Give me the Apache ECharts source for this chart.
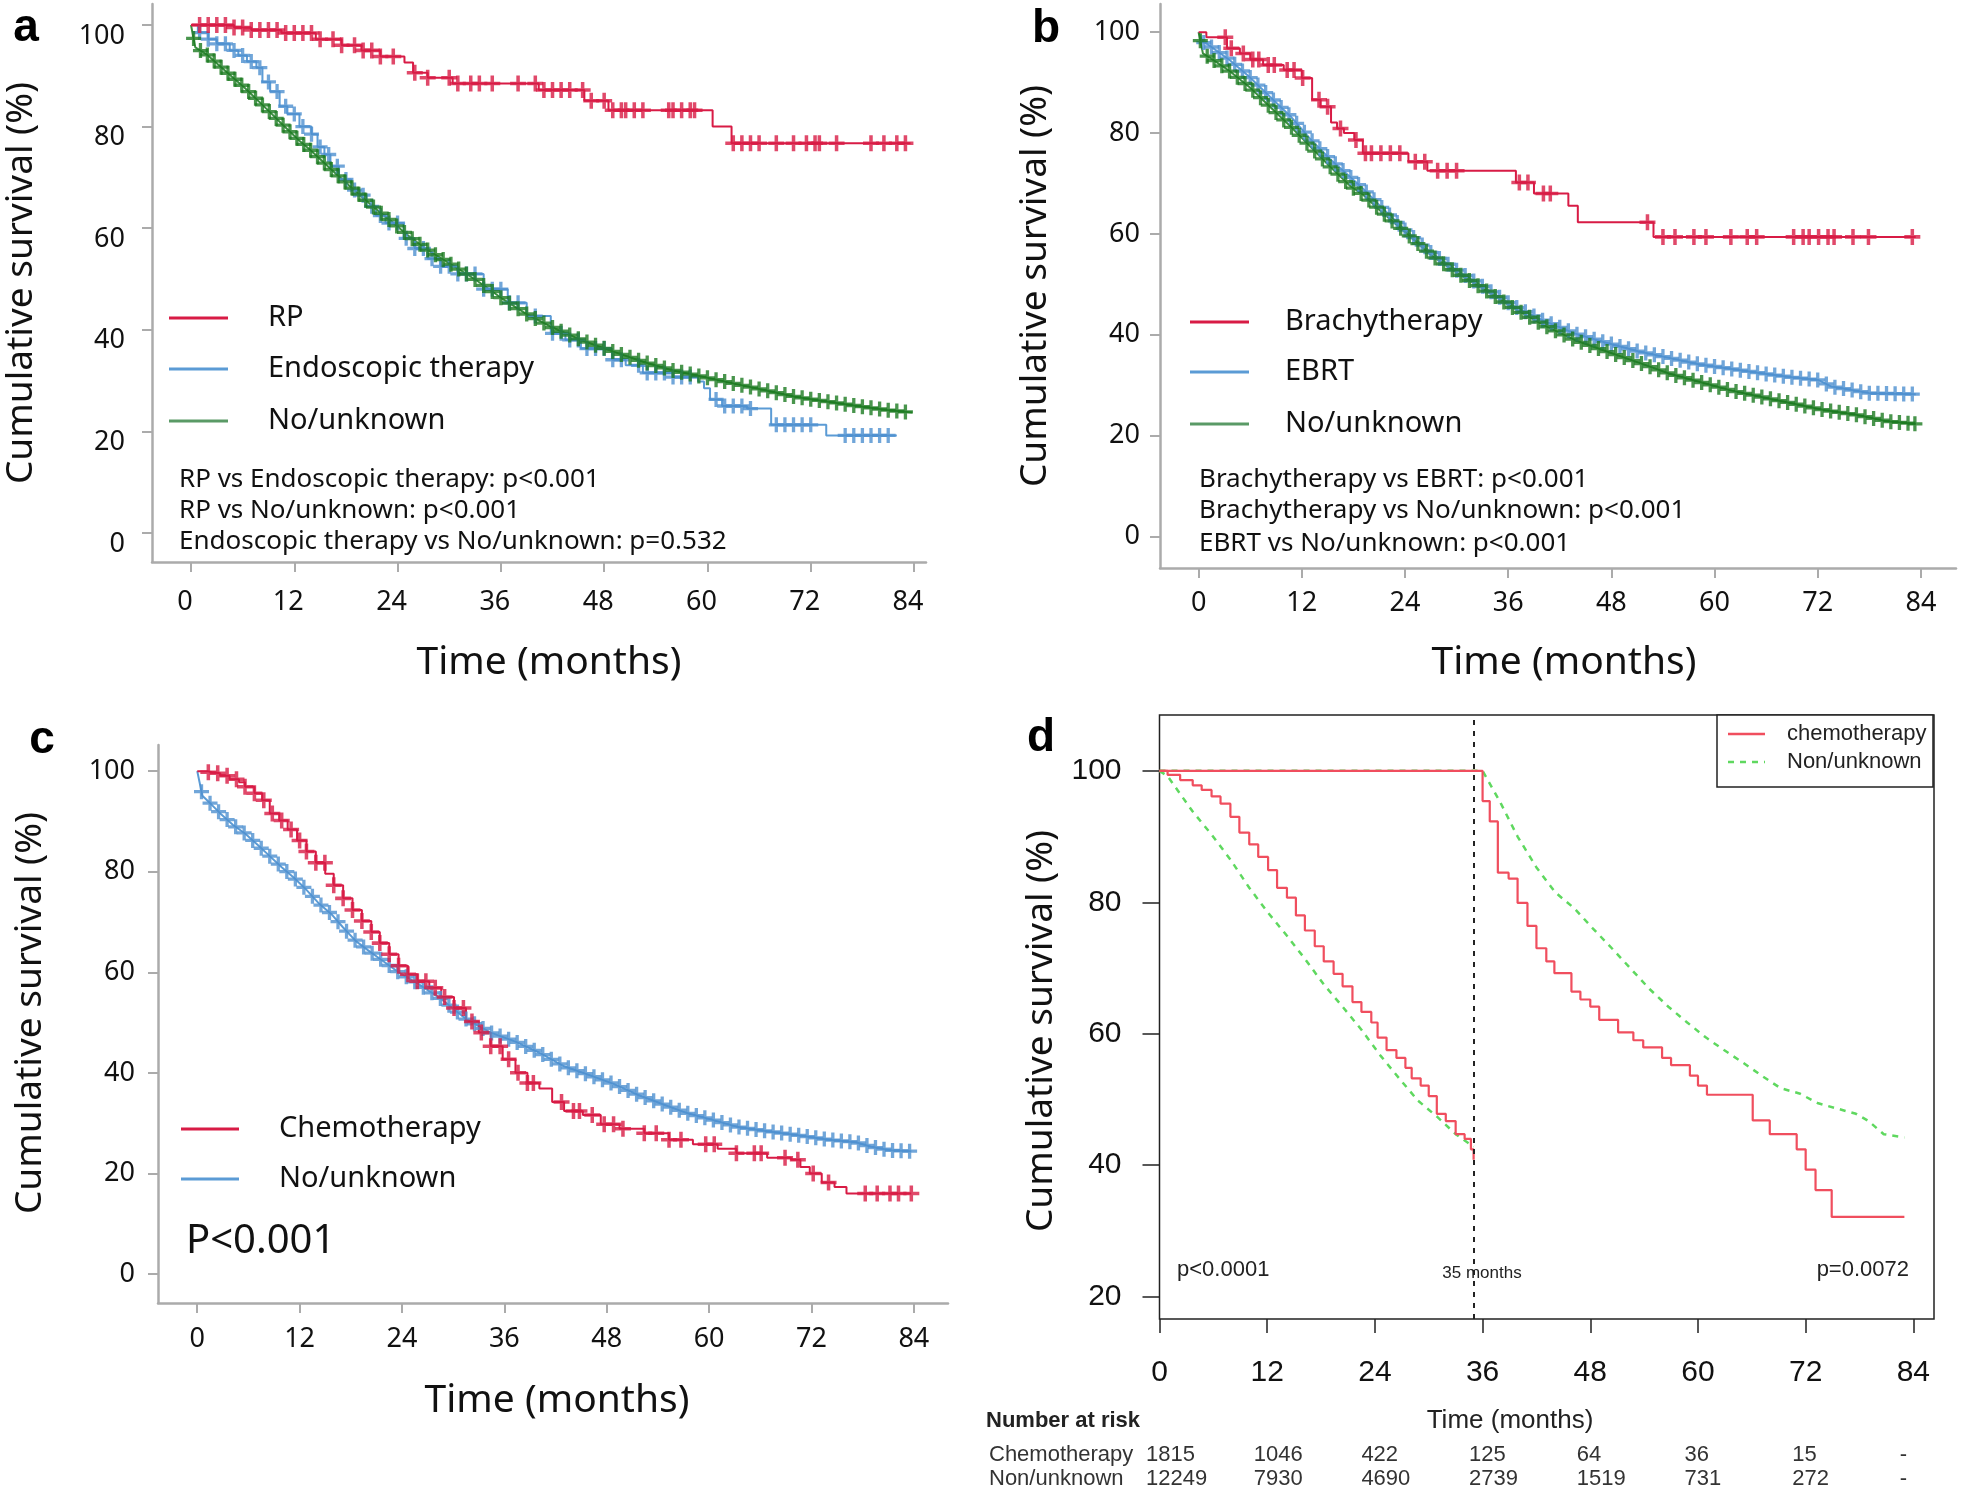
<!DOCTYPE html>
<html><head><meta charset="utf-8">
<script src="https://cdn.jsdelivr.net/npm/echarts@6/dist/echarts.min.js"></script>
<style>html,body{margin:0;padding:0;background:#fff;}#c{width:1961px;height:1496px;}</style>
</head><body><div id="c"></div>
<script>
// ---------- tick values ----------
const monthTicks = [0, 12, 24, 36, 48, 60, 72, 84];
const survTicksABC = [0, 20, 40, 60, 80, 100];
const survTicksD = [20, 40, 60, 80, 100];

// ---------- panel a ----------
const aRP = [[0,100],[5,99.5],[7,99],[10.5,98.4],[14.5,97.2],[17.5,96],[19.8,95],[22,93.8],[24.8,92.6],[25.8,90.6],[27.5,89.6],[30.4,88.5],[40.4,87.2],[45.7,85.1],[48.5,83.2],[60.6,80],[62.8,76.7],[83.6,76.7]];
const aEndo = [[0,100],[0.8,98.5],[2,97.2],[3,96.3],[4.5,95],[5.5,94],[6.5,92.8],[7.6,91.6],[8.3,88.8],[9.2,86.9],[10.3,84],[11.2,82.5],[12.6,80],[14,78.5],[14.7,76],[15.5,74.5],[16.2,72.2],[17.2,69.6],[18.6,67.5],[19.6,66.5],[20.4,64.3],[21.5,62.5],[22.6,61],[24.7,58],[26,56],[27.5,54],[29,52.5],[31,51],[34,48],[36.8,45.3],[39,42.7],[41.8,39.3],[43.5,38],[45.3,36.3],[48.9,34.1],[50.5,33],[52.5,31.5],[56,30.7],[58.9,29.8],[59.6,28.5],[60.3,26.3],[61.7,25],[64.6,24.5],[67.4,21.3],[73.8,19.2],[82,19.2]];
const aNo = [[0,100],[0.5,95.6],[1.9,94.1],[4.5,90.2],[6.2,87.7],[9.2,82.8],[10.5,80.6],[12.6,77.2],[13.8,75.5],[16.9,70.6],[18.5,68.2],[21.1,64.3],[23.3,61.3],[25.4,58.3],[27.5,55.7],[30.4,52.7],[33.2,49.7],[36.1,46.2],[38.9,43.2],[41.8,40.6],[45.3,38],[48.9,35.8],[52.5,33.7],[56,32],[59.6,30.7],[63.1,29.4],[66.7,28.1],[70.2,26.8],[73.8,25.9],[77.4,25],[80.9,24.2],[83.8,23.7]];
const aRPCens = [1,2,3,4,5,6,7,8,9,10,11,12,13,14,15,16.5,17.5,19,20,21,22,23.5,26,27.5,30,31,32.5,33.5,35,38,40,41,42,43,44,45.5,46.5,48,49,50,50.5,51.5,52.5,55.5,56,57,58,58.5,63,64,65,66,68,70,71.5,72.5,73,75,79,80.5,82,83];
const aEndoCens = [1,2,3,4,5,6,7,8,9,10,11,12,13,14,15,16,17,18,19,20,21,22,23,24,25,26,27,28,29,30,31,32,33,34,35,36,37,38,40,42,43,44,45,46,47,48,49,50,52,53,54,55,56,57,58,61,62,63,64,65,68,69,70,71,72,76,77,78,79,80,81];
const aNoCens = [0.3,1.1,1.9,2.7,3.5,4.3,5.1,5.9,6.7,7.5,8.3,9.1,9.9,10.7,11.5,12.3,13.1,13.9,14.7,15.5,16.3,17.1,17.9,18.7,19.5,20.3,21.2,22.1,23,23.9,24.8,25.7,26.6,27.5,28.4,29.3,30.2,31.1,32,33,34,35,36,37,38,39,40,41,42,43,44,45,46,47,48,49,50,51,52,53,54,55,56,57,58,59,60,61,62,63,64,65,66,67,68,69,70,71,72,73,74,75,76,77,78,79,80,81,82,83];

// ---------- panel b ----------
const bBrachy = [[0,100],[0.9,99],[3.3,96.8],[4.8,95.8],[6,94.6],[7.5,93.5],[9.9,92.5],[12,90.9],[13.2,86.6],[14.2,85.2],[15.4,82.1],[16.1,80.9],[16.9,80],[18.1,78.6],[19.1,76],[24.4,74.3],[26.6,72.5],[36.9,70.2],[39,68],[43,65.6],[44.1,62.3],[52.9,59.4],[83.4,59.4]];
const bEBRT = [[0,100],[0.5,98],[0.9,97.8],[3.6,94.5],[6,91],[8.3,87.2],[10.7,83.3],[13,78.8],[15.3,74.8],[17.5,71.5],[19.1,69],[21.2,65.4],[24.1,60.6],[27,56.3],[30,52.8],[32.9,49.7],[36.5,45.8],[40.1,42.8],[43.8,40.2],[47.4,38.4],[51.1,36.7],[54.7,35.4],[58.3,34.1],[62,33.2],[65.6,32.3],[69.2,31.5],[72.1,31],[73.6,29.7],[75,29.3],[78,28.4],[83.4,28.2]];
const bNo = [[0,100],[0.5,95.8],[1.6,94.6],[3.6,92.3],[6,89],[8.3,85.2],[10.7,81.3],[13,77.3],[15.3,73.3],[17.7,69.4],[19.1,67.8],[21.2,64.5],[24.1,60.2],[27,55.8],[30,52.3],[32.9,49.3],[36.5,45.4],[40.1,41.9],[43.8,38.9],[47.4,36.7],[51.1,34.5],[54.7,32.3],[58.3,30.6],[62,28.9],[65.6,27.6],[69.2,26.3],[72.9,25],[76.5,24.1],[80.1,22.8],[83.4,22.3]];
const bBrachyCens = [3.1,3.8,5.2,6.3,7,8.1,8.8,10.3,11.1,12.1,14,15,16.5,18.3,19.4,20.1,21.2,22.3,23.4,25.2,26.3,27.8,28.9,30,37.3,38.3,40.1,40.9,52.2,54,55.4,57.6,59,61.9,63.8,64.9,69.2,70.3,71,72.1,73.2,73.9,76.1,77.9,83];
const bEBRTCens = [0.6,1.5,2.4,3.3,4.2,5.1,6,6.9,7.8,8.7,9.6,10.5,11.4,12.3,13.2,14.1,15,15.9,16.8,17.7,18.6,19.5,20.4,21.3,22.2,23.1,24,25,26,27,28,29,30,31,32,33,34,35,36,37,38,39,40,41,42,43,44,45,46,47,48,49,50,51,52,53,54,55,56,57,58,59,60,61,62,63,64,65,66,67,68,69,70,71,72,73,74,75,76,77,78,79,80,81,82,83];
const bNoCens = [0.2,1,1.8,2.7,3.6,4.5,5.4,6.3,7.2,8.1,9,9.9,10.8,11.7,12.6,13.5,14.4,15.3,16.2,17.1,18,18.9,19.8,20.7,21.6,22.5,23.5,24.5,25.5,26.5,27.5,28.5,29.5,30.5,31.5,32.5,33.5,34.5,35.5,36.5,37.5,38.5,39.5,40.5,41.5,42.5,43.5,44.5,45.5,46.5,47.5,48.5,49.5,50.5,51.5,52.5,53.5,54.5,55.5,56.5,57.5,58.5,59.5,60.5,61.5,62.5,63.5,64.5,65.5,66.5,67.5,68.5,69.5,70.5,71.5,72.5,73.5,74.5,75.5,76.5,77.5,78.5,79.5,80.5,81.5,82.5,83.3];

// ---------- panel c ----------
const cChemo = [[0,100],[1.2,99.8],[1.7,99.6],[2.7,99.1],[3.8,98.4],[4.9,97.8],[5.6,96.9],[6.7,95.6],[7.6,94.2],[8.5,91.6],[9.6,90.2],[10.6,88.4],[11.7,86.2],[12.8,84],[13.9,81.8],[15,79.6],[16,77.3],[17.1,74.7],[18.2,72.4],[19.3,70.2],[20.4,68],[21.4,65.8],[22.5,63.6],[23.6,61.3],[24.7,59.6],[25.8,58.2],[27.2,56.9],[28.6,55.1],[30.1,52.9],[31.5,50.2],[33,48],[34.4,45.3],[35.8,42.7],[37.3,40],[38.7,38],[40.1,36.9],[41.6,34.2],[43,32.4],[45.2,31.6],[47.3,29.8],[49.5,28.9],[52.4,28],[55.3,26.7],[58.1,25.8],[61,24.9],[63.2,24],[66.8,23.1],[69.6,22.7],[70.7,21.3],[71.8,20],[73.2,18.2],[74.7,17.3],[76.1,16],[83.7,16]];
const cNo = [[0,100],[0.6,95.1],[1.7,93.3],[2.7,91.6],[4.2,89.3],[5.6,87.6],[7.1,85.3],[8.5,83.1],[9.9,80.9],[11.4,78.7],[12.8,76.4],[14.2,73.8],[15.7,71.6],[17.1,68.9],[18.6,66.2],[20,64.4],[21.4,62.7],[23.6,60],[25.8,57.8],[28.6,54.7],[31.5,50.7],[34.4,48],[37.3,46.2],[40.1,44],[43,41.3],[45.9,39.6],[48.8,37.8],[51.7,35.6],[54.5,33.8],[57.4,32],[60.3,30.7],[63.2,29.3],[66.8,28.4],[70.4,27.6],[74,26.7],[77.2,26.2],[79,25.3],[81.2,24.6],[83.7,24.4]];
const cChemoCens = [1.3,2.4,3.5,4.6,5.6,6.7,7.8,8.8,9.9,11,12,12.8,13.9,14.96,16,17.1,18.2,19.3,20.4,21.4,22.5,23.6,24.7,25.8,26.8,27.9,29,30.1,31.2,32.2,33.3,34.4,35.5,36.5,37.6,38.7,39.4,42.7,44.1,44.8,46.3,47.7,48.8,49.9,52.4,53.8,55.3,56.7,59.6,60.6,63.2,65.3,66.1,68.9,70.4,72.2,74,78.3,79.7,81.2,82.2,83.7];
const cNoCens = [0.5,1.5,2.5,3.5,4.5,5.5,6.5,7.5,8.5,9.5,10.5,11.5,12.5,13.5,14.5,15.5,16.5,17.5,18.5,19.5,20.5,21.5,22.5,23.5,24.5,25.5,26.5,27.5,28.5,29.5,30.5,31.5,32.5,33.5,34.5,35.5,36.5,37.5,38.5,39.5,40.5,41.5,42.5,43.5,44.5,45.5,46.5,47.5,48.5,49.5,50.5,51.5,52.5,53.5,54.5,55.5,56.5,57.5,58.5,59.5,60.5,61.5,62.5,63.5,64.5,65.5,66.5,67.5,68.5,69.5,70.5,71.5,72.5,73.5,74.5,75.5,76.5,77.5,78.5,79.5,80.5,81.5,82.5,83.5];

// ---------- panel d ----------
const dChemoEarly = [[0,100],[0.9,99.4],[2.3,98.6],[3.7,97.8],[4.7,97.1],[5.8,96.1],[6.8,95],[7.9,93],[8.9,90.6],[10,88.8],[11,86.9],[12.1,84.9],[13.1,82.2],[14.2,80.7],[15.2,78],[16.2,75.7],[17.3,73.3],[18.3,71],[19.4,69.1],[20.4,67.2],[21.5,64.8],[22.5,63.3],[23.6,61.7],[24.3,59.4],[25.3,57.5],[26.4,56.3],[27.4,54.8],[28.1,53.2],[29.1,52.1],[30,50.5],[30.9,47.8],[31.9,46.7],[33,44.7],[34,44],[34.7,42.4],[35,40.8]];
const dNonEarly = [[0,100],[0.9,99.2],[2.3,96.5],[3.7,93.8],[5.8,90.3],[7.9,86.5],[10,82.2],[12.1,78.4],[14.2,74.9],[16.2,71.4],[18.3,67.5],[20.4,64.1],[22.5,60.6],[24.6,56.7],[26.7,53.2],[28.8,49.8],[30.9,47.4],[33,44.7],[35,42.8]];
const dChemoLate = [[0,100],[36,95.4],[36.8,92.3],[37.7,84.5],[38.9,83.6],[39.9,79.9],[41,76.4],[42,73],[43.1,71],[44,69.2],[45.9,66.4],[46.9,65.2],[48,64.1],[49,62.1],[51.1,60.2],[52.8,59],[53.9,57.9],[56,56.3],[57,55.2],[59.1,53.6],[60,52.1],[61,50.7],[66.1,46.8],[68,44.7],[71,42.4],[72,39.3],[73.1,36.2],[74.9,32.1],[83,32.1]];
const dNonLate = [[0,100],[36,100],[37.9,95.4],[39.9,90],[42,85.3],[44.1,81.5],[46.2,79.1],[48.3,76],[50.4,73],[52.5,69.9],[54.6,66.8],[56.7,64.1],[58.8,61.7],[60.9,59.4],[62.9,57.5],[65,55.6],[67.1,53.6],[69.2,51.7],[71.3,50.9],[73.4,49.4],[75.5,48.6],[77.6,47.8],[79,46.7],[80.7,44.7],[83,44.2]];
const landmarkMonth = 35;
const riskChemo = ['1815','1046','422','125','64','36','15','-'];
const riskNon = ['12249','7930','4690','2739','1519','731','272','-'];

// ---------- helpers ----------
function stepAt(c, t) { let v = c[0][1]; for (const p of c) { if (p[0] <= t) v = p[1]; else break; } return v; }
function lineAt(c, t) {
  for (let i = 1; i < c.length; i++) {
    const p0 = c[i-1], p1 = c[i];
    if (t <= p1[0]) { const f = (t - p0[0]) / ((p1[0] - p0[0]) || 1); return p0[1] + f * (p1[1] - p0[1]); }
  }
  return c[c.length-1][1];
}
function marks(c, times, step) { return times.map(t => [t, step ? stepAt(c, t) : lineAt(c, t)]); }

const PLUS = 'path://M3.9,0H6.1V3.9H10V6.1H6.1V10H3.9V6.1H0V3.9H3.9Z';
const RED = '#d81b45', BLUE = '#5b9bd5', BLUEM = '#4e90d0', GREEN = '#3a8f3f', GREENM = '#1b7a20';
const DRED = '#f04e5e', DGREEN = '#5fd85f';
const NS = 'Noto Sans', LS = 'Liberation Sans';

function km(name, data, idx, color, step, width, extra) {
  return Object.assign({ type: 'line', name, data, xAxisIndex: idx, yAxisIndex: idx,
    step: step ? 'end' : false, showSymbol: false, symbol: 'none', silent: true, animation: false,
    lineStyle: { color, width: width || 2 }, itemStyle: { color }, z: 3 }, extra || {});
}
function cens(name, data, idx, color, size) {
  return { type: 'scatter', name, data, xAxisIndex: idx, yAxisIndex: idx, symbol: PLUS,
    symbolSize: size || 14, itemStyle: { color }, silent: true, animation: false, z: 4 };
}
const AX = '#ababab';
function xAx(grid, min, max, lblMargin, nameGap, lblPad, namePad) {
  return { type: 'value', gridIndex: grid, min, max, splitLine: { show: false },
    axisLine: { show: true, onZero: false, lineStyle: { color: AX, width: 2.5 } },
    axisTick: { show: true, customValues: monthTicks, length: 10, lineStyle: { color: AX, width: 2 } },
    axisLabel: { customValues: monthTicks, fontSize: 27, color: '#111', fontFamily: NS, margin: lblMargin, padding: lblPad || 0 },
    name: 'Time (months)', nameLocation: 'middle', nameGap,
    nameTextStyle: { fontSize: 39, color: '#111', fontFamily: NS, padding: namePad || 0 } };
}
function yAx(grid, min, max, lblMargin, nameGap, lblShift, namePad) {
  const lbl = { customValues: survTicksABC, fontSize: 27, color: '#111', fontFamily: NS, margin: lblMargin };
  if (lblShift) {
    lbl.formatter = v => '{p|' + v + '}';
    lbl.rich = { p: { fontSize: 27, color: '#111', fontFamily: NS, padding: [lblShift, 0, 0, 0] } };
  }
  return { type: 'value', gridIndex: grid, min, max, splitLine: { show: false },
    axisLine: { show: true, onZero: false, lineStyle: { color: AX, width: 2.5 } },
    axisTick: { show: true, customValues: survTicksABC, length: 10, lineStyle: { color: AX, width: 2 } },
    axisLabel: lbl,
    name: 'Cumulative survival (%)', nameLocation: 'middle', nameRotate: 90, nameGap,
    nameTextStyle: { fontSize: 37, color: '#111', fontFamily: NS, padding: namePad || 0 } };
}

function txt(text, x, y, size, opts) {
  opts = opts || {};
  return { type: 'text', x, y, silent: true, z: 10, style: { text, fontSize: size, fontFamily: opts.family || NS,
    fontWeight: opts.weight || 'normal', fill: opts.color || '#111',
    align: opts.align || 'left', textAlign: opts.align || 'left', verticalAlign: 'middle', textVerticalAlign: 'middle' } };
}
function seg(x1, y1, x2, y2, color, w, dash) {
  return { type: 'line', silent: true, z: 10, shape: { x1, y1, x2, y2 }, style: { stroke: color, lineWidth: w || 3, lineDash: dash || null } };
}

const option = {
  animation: false,
  backgroundColor: '#fff',
  grid: [
    { left: 152, top: 4, width: 774, height: 558 },
    { left: 1160, top: 4, width: 796, height: 564 },
    { left: 158, top: 745, width: 790, height: 558 },
    { left: 1159.5, top: 715, width: 774.5, height: 604, show: true, borderColor: '#222', borderWidth: 1.5, backgroundColor: 'transparent' },
    { left: 1146, top: 1455, width: 774.5, height: 24 }
  ],
  xAxis: [
    xAx(0, -4.53, 85.39, 27, 81, [0, 12, 0, 0], [0, 0, 0, 20]),
    xAx(1, -4.49, 88.08, 22, 75, 0, [0, 0, 0, 12]),
    xAx(2, -4.6, 88.0, 23, 78, 0, [0, 0, 0, 8]),
    { type: 'value', gridIndex: 3, min: 0, max: 86.3, splitLine: { show: false },
      axisLine: { show: false },
      axisTick: { show: true, customValues: monthTicks, length: 14, lineStyle: { color: '#222', width: 1.5 } },
      axisLabel: { customValues: monthTicks, fontSize: 30, color: '#111', fontFamily: LS, margin: 39 } },
    { type: 'value', gridIndex: 4, position: 'top', min: 0, max: 86.3, splitLine: { show: false },
      axisLine: { show: false }, axisTick: { show: false },
      axisLabel: { customValues: monthTicks, formatter: v => riskChemo[monthTicks.indexOf(v)], align: 'left', verticalAlign: 'middle',
        margin: 0, fontSize: 22, color: '#333', fontFamily: LS } },
    { type: 'value', gridIndex: 4, position: 'bottom', min: 0, max: 86.3, splitLine: { show: false },
      axisLine: { show: false }, axisTick: { show: false },
      axisLabel: { customValues: monthTicks, formatter: v => riskNon[monthTicks.indexOf(v)], align: 'left', verticalAlign: 'middle',
        margin: 0, fontSize: 22, color: '#333', fontFamily: LS } }
  ],
  yAxis: [
    yAx(0, -5.71, 104.13, 27, 112, 22),
    yAx(1, -6.29, 105.6, 20, 106),
    yAx(2, -5.77, 105.2, 23, 109, 0, [0, 0, 0, 22]),
    { type: 'value', gridIndex: 3, min: 16.57, max: 108.5, splitLine: { show: false },
      axisLine: { show: false },
      axisTick: { show: true, customValues: survTicksD, length: 17, lineStyle: { color: '#222', width: 1.5 } },
      axisLabel: { customValues: survTicksD, fontSize: 30, color: '#111', fontFamily: LS, margin: 38 },
      name: 'Cumulative survival (%)', nameLocation: 'middle', nameRotate: 90, nameGap: 100,
      nameTextStyle: { fontSize: 37, color: '#111', fontFamily: NS, padding: [0, 28, 0, 0] } },
    { type: 'value', gridIndex: 4, show: false, min: 0, max: 1 }
  ],
  series: [
    // a
    km('Endoscopic therapy', aEndo, 0, BLUE, true),
    cens('Endoscopic therapy censored', marks(aEndo, aEndoCens, true), 0, BLUEM, 15),
    km('No/unknown (a)', aNo, 0, GREEN, false),
    cens('No/unknown (a) censored', marks(aNo, aNoCens, false), 0, GREENM, 15),
    km('RP', aRP, 0, RED, true),
    cens('RP censored', marks(aRP, aRPCens, true), 0, RED, 16),
    // b
    km('EBRT', bEBRT, 1, BLUE, false),
    cens('EBRT censored', marks(bEBRT, bEBRTCens, false), 1, BLUEM, 15),
    km('No/unknown (b)', bNo, 1, GREEN, false),
    cens('No/unknown (b) censored', marks(bNo, bNoCens, false), 1, GREENM, 15),
    km('Brachytherapy', bBrachy, 1, RED, true),
    cens('Brachytherapy censored', marks(bBrachy, bBrachyCens, true), 1, RED, 16),
    // c
    km('No/unknown (c)', cNo, 2, BLUE, false),
    cens('No/unknown (c) censored', marks(cNo, cNoCens, false), 2, BLUEM, 15),
    km('Chemotherapy', cChemo, 2, RED, true),
    cens('Chemotherapy censored', marks(cChemo, cChemoCens, true), 2, RED, 16),
    // d
    km('Non/unknown early', dNonEarly, 3, DGREEN, false, 2.5, { lineStyle: { color: DGREEN, width: 2.5, type: [6, 6] } }),
    km('Non/unknown late', dNonLate, 3, DGREEN, false, 2.5, { lineStyle: { color: DGREEN, width: 2.5, type: [6, 6] } }),
    km('chemotherapy early', dChemoEarly, 3, DRED, true, 2.2, {
      markLine: { silent: true, symbol: ['none', 'none'], label: { show: false },
        lineStyle: { type: [5, 6], color: '#222', width: 2 }, data: [{ xAxis: landmarkMonth }] } }),
    km('chemotherapy late', dChemoLate, 3, DRED, true, 2.2)
  ],
  graphic: [
    txt('a', 26, 28, 46, { family: LS, weight: 'bold', align: 'center', color: '#000' }),
    txt('b', 1046, 29, 46, { family: LS, weight: 'bold', align: 'center', color: '#000' }),
    txt('c', 42, 740, 46, { family: LS, weight: 'bold', align: 'center', color: '#000' }),
    txt('d', 1041, 738, 46, { family: LS, weight: 'bold', align: 'center', color: '#000' }),
    // legend a
    seg(169, 318, 228, 318, RED), txt('RP', 268, 318, 29),
    seg(169, 369, 228, 369, BLUE), txt('Endoscopic therapy', 268, 369, 29),
    seg(169, 421, 228, 421, '#5a9a66'), txt('No/unknown', 268, 421, 29),
    txt('RP vs Endoscopic therapy: p<0.001', 179, 480, 26),
    txt('RP vs No/unknown: p<0.001', 179, 511, 26),
    txt('Endoscopic therapy vs No/unknown: p=0.532', 179, 542, 26),
    // legend b
    seg(1190, 322, 1249, 322, RED), txt('Brachytherapy', 1285, 322, 29),
    seg(1190, 372, 1249, 372, BLUE), txt('EBRT', 1285, 372, 29),
    seg(1190, 424, 1249, 424, '#5a9a66'), txt('No/unknown', 1285, 424, 29),
    txt('Brachytherapy vs EBRT: p<0.001', 1199, 480, 26),
    txt('Brachytherapy vs No/unknown: p<0.001', 1199, 511, 26),
    txt('EBRT vs No/unknown: p<0.001', 1199, 544, 26),
    // legend c
    seg(181, 1129, 239, 1129, RED), txt('Chemotherapy', 279, 1129, 29),
    seg(181, 1179, 239, 1179, BLUE), txt('No/unknown', 279, 1179, 29),
    txt('P<0.001', 186, 1242, 40),
    // panel d annotations
    { type: 'rect', silent: true, z: 10, shape: { x: 1717, y: 715, width: 216, height: 72 }, style: { fill: '#fff', stroke: '#222', lineWidth: 1.5 } },
    seg(1728, 734, 1765, 734, DRED, 2.5), txt('chemotherapy', 1787, 734, 22, { family: LS, color: '#222' }),
    seg(1728, 762, 1765, 762, DGREEN, 2.5, [6, 6]), txt('Non/unknown', 1787, 762, 22, { family: LS, color: '#222' }),
    txt('p<0.0001', 1177, 1270, 22, { family: LS, color: '#222' }),
    txt('35 months', 1482, 1273, 17, { family: LS, color: '#222', align: 'center' }),
    txt('p=0.0072', 1909, 1270, 22, { family: LS, color: '#222', align: 'right' }),
    txt('Time (months)', 1510, 1421, 26, { family: LS, color: '#222', align: 'center' }),
    txt('Number at risk', 986, 1421, 22, { family: LS, color: '#222', weight: 'bold' }),
    txt('Chemotherapy', 989, 1455, 22, { family: LS, color: '#333' }),
    txt('Non/unknown', 989, 1479, 22, { family: LS, color: '#333' })
  ]
};

const chart = echarts.init(document.getElementById('c'), null, { renderer: 'canvas' });
chart.setOption(option);
</script>
</body></html>
